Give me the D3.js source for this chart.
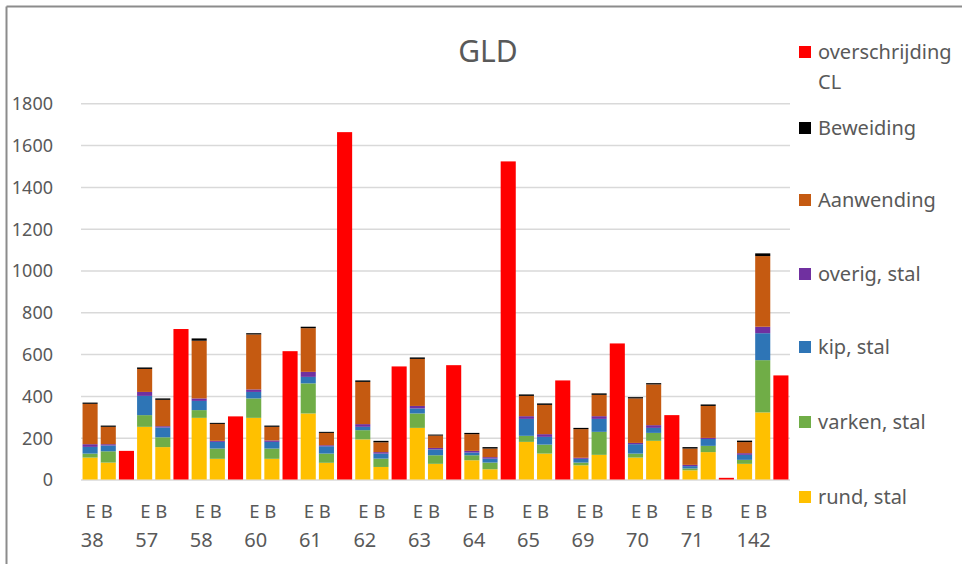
<!DOCTYPE html>
<html>
<head>
<meta charset="utf-8">
<script src="https://cdn.jsdelivr.net/npm/d3@7"></script>
<style>
  body { margin: 0; background: #fff; }
  text { font-family: 'Noto Sans', sans-serif; fill: #595959; }
  .axis .tick line { stroke: #d9d9d9; stroke-width: 1.5; }
  .axis .tick text { font-size: 18px; fill: #595959; }
</style>
</head>
<body>
<div id="chart"><svg id="gld"></svg></div>
<script>
const groups = ['38', '57', '58', '60', '61', '62', '63', '64', '65', '69', '70', '71', '142']

// E bars per group
const eRund = [105, 252, 295, 295, 316, 192, 247, 92, 180, 68, 105, 44, 75]
const eVarken = [19, 56, 37, 93, 144, 44, 69, 24, 29, 13, 19, 9, 19]
const eKip = [32, 92, 44, 31, 31, 16, 24, 13, 81, 18, 45, 11, 24]
const eOverig = [13, 19, 12, 12, 24, 13, 12, 8, 13, 5, 6, 6, 8]
const eAanwending = [193, 110, 276, 263, 209, 202, 225, 80, 97, 137, 213, 78, 53]
const eBeweiding = [6, 7, 11, 6, 7, 7, 7, 6, 7, 6, 6, 7, 7]

// B bars per group
const bRund = [81, 155, 99, 99, 80, 60, 75, 49, 124, 118, 185, 131, 321]
const bVarken = [54, 47, 49, 49, 44, 40, 41, 32, 43, 110, 38, 30, 250]
const bKip = [28, 47, 32, 32, 35, 24, 28, 19, 37, 62, 24, 33, 129]
const bOverig = [6, 6, 5, 7, 5, 7, 7, 7, 13, 13, 13, 5, 31]
const bAanwending = [83, 126, 81, 65, 59, 47, 59, 41, 140, 102, 195, 153, 338]
const bBeweiding = [6, 7, 5, 6, 5, 7, 5, 7, 7, 7, 6, 7, 13]

// overschrijding CL per group
const overschrijding = [137, 720, 302, 614, 1662, 541, 547, 1522, 474, 651, 308, 8, 498]

const yTicks = [0, 200, 400, 600, 800, 1000, 1200, 1400, 1600, 1800]

const seriesKeys = ['rund', 'varken', 'kip', 'overig', 'aanwending', 'beweiding']
const colors = {
  rund: '#ffc000',
  varken: '#70ad47',
  kip: '#2e75b6',
  overig: '#7030a0',
  aanwending: '#c55a11',
  beweiding: '#000000',
  cl: '#ff0000'
}
const legendItems = [
  { key: 'cl', label: ['overschrijding', 'CL'] },
  { key: 'beweiding', label: ['Beweiding'] },
  { key: 'aanwending', label: ['Aanwending'] },
  { key: 'overig', label: ['overig, stal'] },
  { key: 'kip', label: ['kip, stal'] },
  { key: 'varken', label: ['varken, stal'] },
  { key: 'rund', label: ['rund, stal'] }
]

const W = 962
const H = 564
const plot = { left: 81, right: 790, top: 103.3, bottom: 479.5 }

const svg = d3.select('#gld').attr('width', W).attr('height', H)

// chart frame (top and left edges visible)
svg.append('line').attr('x1', 6.5).attr('x2', W).attr('y1', 6.5).attr('y2', 6.5)
  .attr('stroke', '#8c8c8c').attr('stroke-width', 2)
svg.append('line').attr('x1', 6.5).attr('x2', 6.5).attr('y1', 6.5).attr('y2', H)
  .attr('stroke', '#8c8c8c').attr('stroke-width', 2)

/// build rows: E, B, CL per group
const stackRows = []
const clRows = []
const slots = []
groups.forEach((g, i) => {
  stackRows.push({ slot: g + '-E', rund: eRund[i], varken: eVarken[i], kip: eKip[i], overig: eOverig[i], aanwending: eAanwending[i], beweiding: eBeweiding[i] })
  stackRows.push({ slot: g + '-B', rund: bRund[i], varken: bVarken[i], kip: bKip[i], overig: bOverig[i], aanwending: bAanwending[i], beweiding: bBeweiding[i] })
  clRows.push({ slot: g + '-CL', value: overschrijding[i] })
  slots.push(g + '-E', g + '-B', g + '-CL')
})

/// Scales
const xScale = d3.scaleBand()
  .domain(slots)
  .range([plot.left, plot.right])
  .paddingInner(0.17)
  .paddingOuter(0.085)

const yScale = d3.scaleLinear()
  .domain([0, 1800])
  .range([plot.bottom, plot.top])

/// y axis with gridlines
const yAxis = svg.append('g')
  .attr('class', 'axis y-axis')
  .attr('transform', 'translate(' + plot.left + ',0)')
  .call(d3.axisLeft(yScale)
    .tickValues(yTicks)
    .tickSizeInner(-(plot.right - plot.left))
    .tickSizeOuter(0)
    .tickPadding(28)
    .tickFormat(d => d))
yAxis.select('.domain').remove()
yAxis.selectAll('.tick text').attr('dy', '0.35em')

/// stacked bars
const stacked = d3.stack().keys(seriesKeys)(stackRows)

svg.append('g')
  .selectAll('g')
  .data(stacked)
  .enter()
  .append('g')
  .attr('fill', d => colors[d.key])
  .selectAll('rect')
  .data(d => d)
  .enter()
  .append('rect')
  .attr('x', d => xScale(d.data.slot))
  .attr('width', xScale.bandwidth())
  .attr('y', d => yScale(d[1]))
  .attr('height', d => yScale(d[0]) - yScale(d[1]))

/// red CL bars
svg.append('g')
  .selectAll('rect')
  .data(clRows)
  .enter()
  .append('rect')
  .attr('x', d => xScale(d.slot))
  .attr('width', xScale.bandwidth())
  .attr('y', d => yScale(d.value))
  .attr('height', d => yScale(0) - yScale(d.value))
  .attr('fill', colors.cl)

/// x labels
const xLabels = svg.append('g').attr('class', 'x-labels')
groups.forEach(g => {
  const mid = (xScale(g + '-E') + xScale(g + '-B') + xScale.bandwidth()) / 2
  xLabels.append('text')
    .attr('x', mid)
    .attr('y', 518)
    .attr('text-anchor', 'middle')
    .attr('font-size', 18.5)
    .text('E B')
  xLabels.append('text')
    .attr('x', g.length < 3 ? mid - 7 : mid)
    .attr('y', 547)
    .attr('text-anchor', 'middle')
    .attr('font-size', 20)
    .text(g)
})

/// title
svg.append('text')
  .attr('x', 488)
  .attr('y', 62)
  .attr('text-anchor', 'middle')
  .attr('font-size', 30)
  .text('GLD')

/// legend
const legendY = [52, 128, 200, 274, 347, 422, 497]
const legend = svg.append('g').attr('class', 'legend')
legendItems.forEach((item, i) => {
  const row = legend.append('g').attr('transform', 'translate(799,' + legendY[i] + ')')
  row.append('rect')
    .attr('x', 0)
    .attr('y', -6)
    .attr('width', 12)
    .attr('height', 12)
    .attr('fill', colors[item.key])
  item.label.forEach((line, j) => {
    row.append('text')
      .attr('x', 19)
      .attr('y', j * 29.5)
      .attr('dy', '0.35em')
      .attr('font-size', 20)
      .text(line)
  })
})
</script>
</body>
</html>
